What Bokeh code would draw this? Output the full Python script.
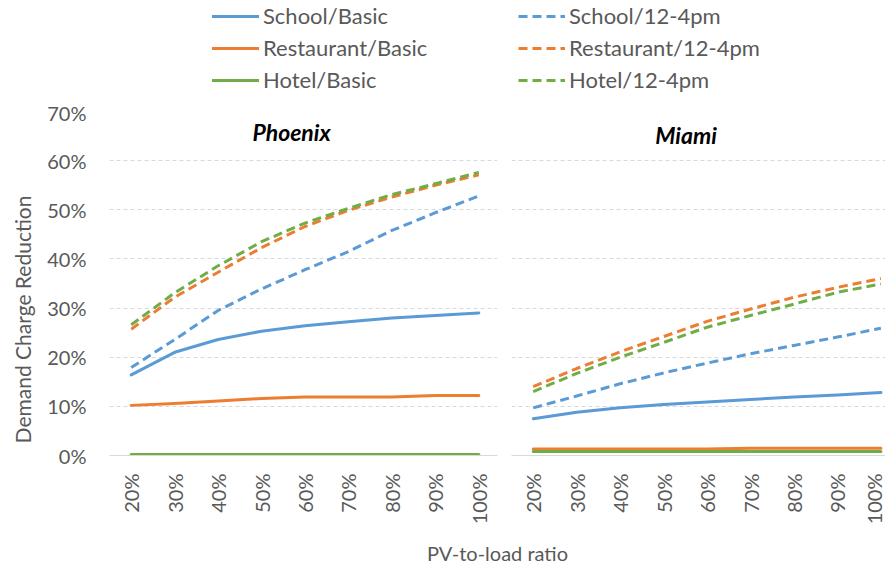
import math
from bokeh.plotting import figure
from bokeh.layouts import column, row
from bokeh.models import (Legend, LegendItem, FixedTicker, NumeralTickFormatter,
                          Label, Range1d, ColumnDataSource)
from bokeh.embed import file_html
from bokeh.resources import INLINE

# ---------------- data ----------------
ratios = ["20%", "30%", "40%", "50%", "60%", "70%", "80%", "90%", "100%"]
y_ticks = [0.0, 0.1, 0.2, 0.3, 0.4, 0.5, 0.6, 0.7]

# Phoenix (percent)
phx_school_basic = [16.4, 21.0, 23.6, 25.3, 26.4, 27.2, 28.0, 28.5, 29.0]
phx_restaurant_basic = [10.2, 10.6, 11.1, 11.6, 11.9, 11.9, 11.9, 12.2, 12.2]
phx_hotel_basic = [0.2, 0.2, 0.2, 0.2, 0.2, 0.2, 0.2, 0.2, 0.2]
phx_school_peak = [17.9, 23.6, 29.5, 33.9, 37.8, 41.5, 45.8, 49.4, 52.8]
phx_restaurant_peak = [25.7, 32.2, 37.3, 42.3, 46.6, 49.9, 52.6, 55.0, 57.1]
phx_hotel_peak = [26.6, 33.1, 38.6, 43.5, 47.3, 50.3, 53.1, 55.3, 57.6]

# Miami (percent)
mia_school_basic = [7.5, 8.8, 9.7, 10.4, 10.9, 11.4, 11.9, 12.3, 12.8]
mia_restaurant_basic = [1.3, 1.3, 1.3, 1.3, 1.3, 1.5, 1.5, 1.5, 1.5]
mia_hotel_basic = [0.8, 0.8, 0.8, 0.8, 0.8, 0.8, 0.8, 0.8, 0.8]
mia_school_peak = [9.7, 12.1, 14.6, 16.8, 18.8, 20.7, 22.4, 24.1, 25.9]
mia_restaurant_peak = [14.0, 17.7, 21.1, 24.2, 27.3, 29.8, 32.2, 34.2, 36.0]
mia_hotel_peak = [13.0, 16.7, 20.0, 23.0, 26.1, 28.5, 30.8, 33.2, 34.9]

series_names = ["School/Basic", "Restaurant/Basic", "Hotel/Basic",
                "School/12-4pm", "Restaurant/12-4pm", "Hotel/12-4pm"]

# ---------------- styles ----------------
BLUE, ORANGE, GREEN = "#5B9BD5", "#ED7D31", "#70AD47"
colors = [BLUE, ORANGE, GREEN, BLUE, ORANGE, GREEN]
dashes = ["solid", "solid", "solid", "9 5", "9 5", "9 5"]
FONT = "Lato"
GREY_TXT = "#595959"
GRID = "#D9D9D9"
LW = 3

phx = [phx_school_basic, phx_restaurant_basic, phx_hotel_basic,
       phx_school_peak, phx_restaurant_peak, phx_hotel_peak]
mia = [mia_school_basic, mia_restaurant_basic, mia_hotel_basic,
       mia_school_peak, mia_restaurant_peak, mia_hotel_peak]
xs = list(range(len(ratios)))


def blank(width, height, xmax, ymax):
    f = figure(width=width, height=height, x_range=Range1d(0, xmax),
               y_range=Range1d(0, ymax), toolbar_location=None,
               output_backend="svg", min_border=0)
    f.axis.visible = False
    f.grid.visible = False
    f.outline_line_color = None
    return f


def make_panel(width, xr, border_left, border_right, with_yaxis):
    p = figure(width=width, height=435, x_range=xr, y_range=Range1d(0, 0.7),
               toolbar_location=None, output_backend="svg",
               min_border_left=border_left, min_border_right=border_right,
               min_border_top=11, min_border_bottom=80,
               y_axis_location="left" if with_yaxis else None)
    p.outline_line_color = None
    p.xgrid.visible = False
    p.ygrid.ticker = FixedTicker(ticks=y_ticks)
    p.ygrid.grid_line_color = GRID
    p.ygrid.grid_line_dash = "4 3"
    p.ygrid.grid_line_width = 1
    ax = p.xaxis[0]
    ax.ticker = FixedTicker(ticks=xs)
    ax.major_label_overrides = {i: r for i, r in enumerate(ratios)}
    ax.major_label_orientation = math.pi / 2
    ax.major_label_text_font = FONT
    ax.major_label_text_font_size = "20px"
    ax.major_label_text_color = GREY_TXT
    ax.major_label_standoff = 18
    ax.major_tick_line_color = None
    ax.minor_tick_line_color = None
    ax.major_tick_out = 0
    ax.axis_line_color = GRID
    ax.axis_line_width = 1
    if with_yaxis:
        ya = p.yaxis[0]
        ya.ticker = FixedTicker(ticks=y_ticks)
        ya.formatter = NumeralTickFormatter(format="0%")
        ya.major_label_text_font = FONT
        ya.major_label_text_font_size = "20px"
        ya.major_label_text_color = GREY_TXT
        ya.major_label_standoff = 23
        ya.axis_line_color = None
        ya.major_tick_line_color = None
        ya.minor_tick_line_color = None
        ya.major_tick_out = 0
    return p


def draw_series(p, data, visible=True):
    rs = []
    for vals, c, d in zip(data, colors, dashes):
        src = ColumnDataSource(dict(x=xs, y=[v / 100 for v in vals]))
        r = p.line("x", "y", source=src, line_color=c, line_width=LW,
                   line_dash=d, line_cap="butt" if d != "solid" else "round",
                   line_join="round")
        r.visible = visible
        rs.append(r)
    return rs


# Phoenix panel
p1 = make_panel(470, Range1d(-0.5, 8.43), 69, 13, True)
draw_series(p1, phx)
p1.add_layout(Label(x=3.69, y=0.659, text="Phoenix", text_font=FONT,
                    text_font_style="bold italic", text_font_size="23px",
                    text_color="black", text_align="center",
                    text_baseline="middle"))

# Miami panel
p2 = make_panel(375, Range1d(-0.5, 8.106), 1, 0, False)
draw_series(p2, mia)
p2.add_layout(Label(x=3.515, y=0.652, text="Miami", text_font=FONT,
                    text_font_style="bold italic", text_font_size="23px",
                    text_color="black", text_align="center",
                    text_baseline="middle"))

# y axis title strip
yl = blank(40, 435, 40, 435)
yl.add_layout(Label(x=22, y=172, text="Demand Charge Reduction",
                    angle=math.pi / 2, text_font=FONT, text_font_size="21px",
                    text_color=GREY_TXT, text_align="center",
                    text_baseline="middle"))

# Legend figure (legend glyphs come from hidden copies of the series)
lf = figure(width=885, height=100, x_range=Range1d(0, 1), y_range=Range1d(0, 1),
            toolbar_location=None, output_backend="svg", min_border=0)
lf.axis.visible = False
lf.grid.visible = False
lf.outline_line_color = None
hidden = draw_series(lf, phx, visible=False)
items = [LegendItem(label=n, renderers=[r]) for n, r in zip(series_names, hidden)]


def make_legend(its, x, y):
    return Legend(items=its, location=(x, y), orientation="vertical",
                  label_text_font=FONT, label_text_font_size="22px",
                  label_text_color=GREY_TXT, glyph_width=47, glyph_height=26,
                  label_height=26, spacing=5, label_standoff=4, padding=0,
                  margin=0, border_line_color=None, background_fill_alpha=0,
                  inactive_fill_alpha=0, click_policy="none")


lf.add_layout(make_legend(items[:3], 212, 7), "center")
lf.add_layout(make_legend(items[3:], 518, 7), "center")

# bottom figure with x axis title
bf = blank(885, 33, 885, 33)
bf.add_layout(Label(x=497, y=16, text="PV-to-load ratio", text_font=FONT,
                    text_font_size="20px", text_color=GREY_TXT,
                    text_align="center", text_baseline="middle"))

layout = column(lf, row(yl, p1, p2), bf)
open("out.html", "w").write(file_html(layout, INLINE))
